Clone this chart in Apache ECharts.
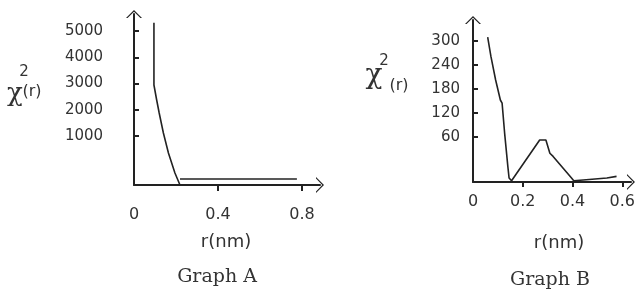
<!DOCTYPE html>
<html>
<head>
<meta charset="utf-8">
<script src="https://cdn.jsdelivr.net/npm/echarts@6/dist/echarts.min.js"></script>
<style>
  html, body { margin: 0; padding: 0; background: #fff; }
  #main { width: 638px; height: 295px; }
</style>
</head>
<body>
<div id="main"></div>
<script>
// Graph A 数据
const aR = [0.095, 0.095, 0.108, 0.12, 0.14, 0.164, 0.195, 0.219];
const aChi = [5316, 2944, 2372, 1877, 1116, 354, -407, -864];
const aTailR = [0.219, 0.776];
const aTailChi = [-636, -636];
const aYTicks = [1000, 2000, 3000, 4000, 5000];
const aXTicks = [0.4, 0.8];
const aXLabels = [0, 0.4, 0.8];

// Graph B 数据
const bR = [0.059, 0.072, 0.091, 0.110, 0.117, 0.127, 0.140, 0.145, 0.155,
  0.268, 0.293, 0.309, 0.322, 0.396, 0.405, 0.443, 0.538, 0.577];
const bChi = [310, 262, 203, 153, 145, 71, -13, -42, -49,
  53, 53, 20, 12, -42, -49, -47, -42, -38];
const bYTicks = [60, 120, 180, 240, 300];
const bXTicks = [0.2, 0.4, 0.6];
const bXLabels = [0, 0.2, 0.4, 0.6];

const ink = "#222";
const txt = "#333";
// 开口箭头 (^)
const chevron = "path://M0,10 L10,0 L20,10 L18,10 L10,2.2 L2,10 Z";

function pairs(xs, ys) {
  return xs.map((x, i) => [x, ys[i]]);
}

const myChart = echarts.init(document.getElementById("main"));

function axisLine(size) {
  return {
    show: true,
    onZero: false,
    symbol: ["none", chevron],
    symbolSize: size,
    lineStyle: { color: ink, width: 2 },
  };
}

const plain = (v) => String(v);

const option = {
  backgroundColor: "#fff",
  animation: false,
  grid: [
    { left: 134, top: 14, width: 186, height: 171 },
    { left: 473, top: 20, width: 165, height: 162 },
  ],
  xAxis: [
    {
      gridIndex: 0,
      type: "value",
      min: 0,
      max: 0.886,
      splitLine: { show: false },
      axisLine: axisLine([22, 8]),
      axisTick: { show: true, customValues: aXTicks, length: 6, lineStyle: { color: ink, width: 2 } },
      axisLabel: {
        customValues: aXLabels,
        margin: 22,
        color: txt,
        fontFamily: "DejaVu Sans",
        fontSize: 16,
        formatter: plain,
      },
    },
    {
      gridIndex: 1,
      type: "value",
      min: 0,
      max: 0.635,
      splitLine: { show: false },
      axisLine: axisLine([22, 8]),
      axisTick: { show: true, customValues: bXTicks, length: 5, lineStyle: { color: ink, width: 2 } },
      axisLabel: {
        customValues: bXLabels,
        margin: 12,
        color: txt,
        fontFamily: "DejaVu Sans",
        fontSize: 16,
        formatter: plain,
      },
    },
  ],
  yAxis: [
    {
      gridIndex: 0,
      type: "value",
      min: -864,
      max: 5647,
      splitLine: { show: false },
      axisLine: axisLine([24, 8]),
      axisTick: { show: true, inside: true, customValues: aYTicks, length: 5, lineStyle: { color: ink, width: 2 } },
      axisLabel: {
        customValues: aYTicks,
        align: "center",
        margin: 50,
        color: txt,
        fontFamily: "DejaVu Sans",
        fontSize: 15,
        formatter: plain,
      },
    },
    {
      gridIndex: 1,
      type: "value",
      min: -52,
      max: 353,
      splitLine: { show: false },
      axisLine: axisLine([24, 8]),
      axisTick: { show: true, inside: true, customValues: bYTicks, length: 5, lineStyle: { color: ink, width: 2 } },
      axisLabel: {
        customValues: bYTicks,
        margin: 13,
        color: txt,
        fontFamily: "DejaVu Sans",
        fontSize: 15,
        formatter: plain,
      },
    },
  ],
  series: [
    {
      type: "line",
      xAxisIndex: 0,
      yAxisIndex: 0,
      data: pairs(aR, aChi),
      showSymbol: false,
      lineStyle: { color: ink, width: 1.6 },
    },
    {
      type: "line",
      xAxisIndex: 0,
      yAxisIndex: 0,
      data: pairs(aTailR, aTailChi),
      showSymbol: false,
      lineStyle: { color: ink, width: 1.6 },
    },
    {
      type: "line",
      xAxisIndex: 1,
      yAxisIndex: 1,
      data: pairs(bR, bChi),
      showSymbol: false,
      lineStyle: { color: ink, width: 1.6 },
    },
  ],
  graphic: [
    // Graph A 纵轴名
    { type: "text", x: 15, y: 94, style: { text: "χ", font: "26px 'DejaVu Serif'", fill: txt, align: "center", verticalAlign: "middle" } },
    { type: "text", x: 24, y: 72, style: { text: "2", font: "15px 'DejaVu Sans'", fill: txt, align: "center", verticalAlign: "middle" } },
    { type: "text", x: 32, y: 92, style: { text: "(r)", font: "16px 'DejaVu Sans'", fill: txt, align: "center", verticalAlign: "middle" } },
    // Graph B 纵轴名
    { type: "text", x: 374, y: 76, style: { text: "χ", font: "28px 'DejaVu Serif'", fill: txt, align: "center", verticalAlign: "middle" } },
    { type: "text", x: 384, y: 61, style: { text: "2", font: "15px 'DejaVu Sans'", fill: txt, align: "center", verticalAlign: "middle" } },
    { type: "text", x: 399, y: 86, style: { text: "(r)", font: "16px 'DejaVu Sans'", fill: txt, align: "center", verticalAlign: "middle" } },
    // 横轴名与标题
    { type: "text", x: 226, y: 242, style: { text: "r(nm)", font: "18px 'DejaVu Sans'", fill: txt, align: "center", verticalAlign: "middle" } },
    { type: "text", x: 559, y: 243, style: { text: "r(nm)", font: "18px 'DejaVu Sans'", fill: txt, align: "center", verticalAlign: "middle" } },
    { type: "text", x: 217, y: 277, style: { text: "Graph A", font: "19px 'DejaVu Serif'", fill: txt, align: "center", verticalAlign: "middle" } },
    { type: "text", x: 550, y: 280, style: { text: "Graph B", font: "19px 'DejaVu Serif'", fill: txt, align: "center", verticalAlign: "middle" } },
  ],
};

myChart.setOption(option);
</script>
</body>
</html>
